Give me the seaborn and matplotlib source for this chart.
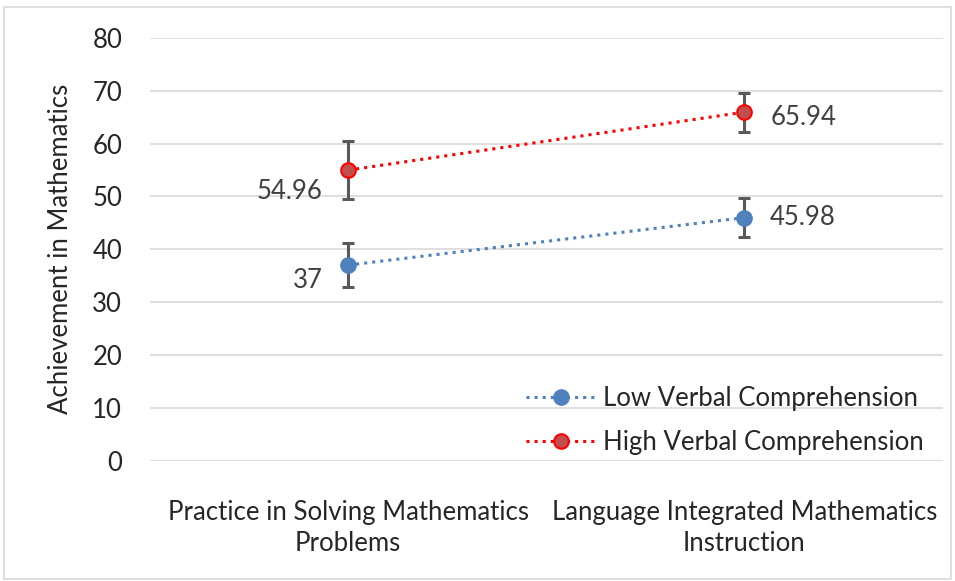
import numpy as np
import pandas as pd
import matplotlib
matplotlib.use("Agg")
import matplotlib.pyplot as plt
import seaborn as sns

# Data
categories = ["Practice in Solving Mathematics\nProblems",
              "Language Integrated Mathematics\nInstruction"]
low_values = [37, 45.98]
high_values = [54.96, 65.94]
low_err = [4.2, 3.7]
high_err = [5.5, 3.7]
low_labels = ["37", "45.98"]
high_labels = ["54.96", "65.94"]

sns.set_style("white")
plt.rcParams["font.family"] = ["Lato", "DejaVu Sans"]
FS = 18.5

df = pd.DataFrame({
    "x": [0, 1, 0, 1],
    "value": low_values + high_values,
    "group": ["Low Verbal Comprehension"] * 2 + ["High Verbal Comprehension"] * 2,
})

fig, ax = plt.subplots(figsize=(9.55, 5.81), dpi=100)
fig.subplots_adjust(left=0.157, right=0.987, top=0.935, bottom=0.207)
fig.patches.append(plt.Rectangle((0.004, 0.004), 0.992, 0.984, transform=fig.transFigure,
                                 fill=False, edgecolor="#D9D9D9", linewidth=1.2))

# error bars first, so points sit on top
ax.errorbar([0, 1], low_values, yerr=low_err, fmt="none", ecolor="#595959",
            elinewidth=2.2, capsize=4.5, capthick=2.2, zorder=2)
ax.errorbar([0, 1], high_values, yerr=high_err, fmt="none", ecolor="#595959",
            elinewidth=2.2, capsize=4.5, capthick=2.2, zorder=2)

styles = {
    "Low Verbal Comprehension": dict(color="#4F81BD", markerfacecolor="#4F81BD",
                                     markeredgecolor="#4F81BD"),
    "High Verbal Comprehension": dict(color="#FF0000", markerfacecolor="#C0504D",
                                      markeredgecolor="#FF0000"),
}
for name, st in styles.items():
    sub = df[df["group"] == name]
    sns.lineplot(data=sub, x="x", y="value", ax=ax, label=name, linestyle=":",
                 linewidth=2.2, marker="o", markersize=10.5, markeredgewidth=1.5,
                 zorder=3, **st)

# data labels
lab_kw = dict(va="center", fontsize=FS, color="#404040")
ax.text(-0.065, low_values[0] - 2.9, low_labels[0], ha="right", **lab_kw)
ax.text(-0.065, high_values[0] - 4, high_labels[0], ha="right", **lab_kw)
ax.text(1.065, low_values[1], low_labels[1], ha="left", **lab_kw)
ax.text(1.065, high_values[1] - 1, high_labels[1], ha="left", **lab_kw)

ax.set_xlim(-0.5, 1.5)
ax.set_ylim(0, 80)
ax.set_yticks(np.arange(0, 81, 10))
ax.set_xticks([0, 1])
ax.set_xticklabels(categories, fontsize=FS, color="#262626", linespacing=1.3)
ax.tick_params(axis="y", labelsize=FS, colors="#262626", length=0, pad=20)
ax.tick_params(axis="x", length=0, pad=28)
ax.set_xlabel("")
ax.set_ylabel("Achievement in Mathematics", fontsize=FS, color="#262626", labelpad=14)
ax.grid(axis="y", color="#D9D9D9", linewidth=1.2)
ax.set_axisbelow(True)
sns.despine(ax=ax, left=True, bottom=True)

ax.legend(loc="lower right", frameon=False, fontsize=FS, handlelength=2.7,
          labelspacing=0.72, handletextpad=0.3, bbox_to_anchor=(1.006, -0.04))

fig.savefig("out.png", dpi=100)
